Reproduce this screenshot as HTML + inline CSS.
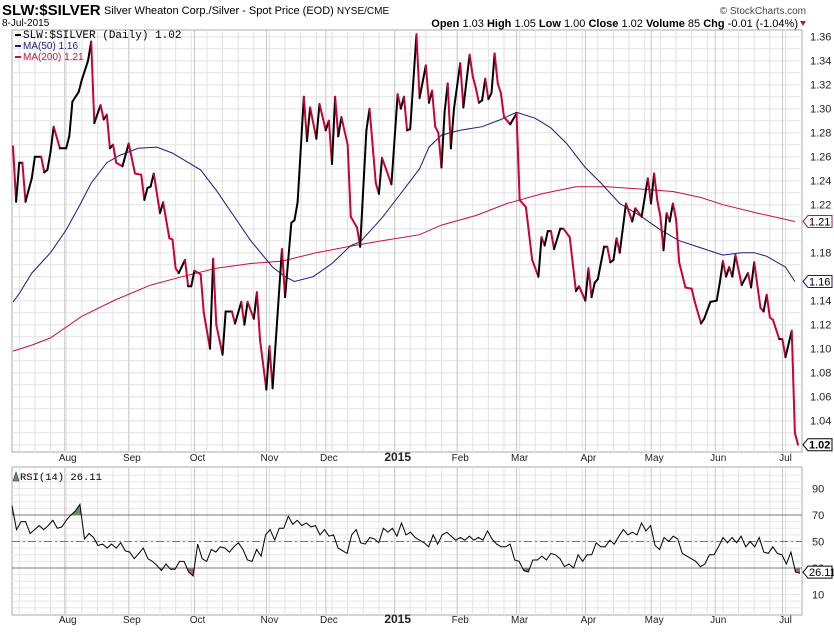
<!DOCTYPE html>
<html><head><meta charset="utf-8"><style>
body{margin:0;background:#fff;width:834px;height:635px;overflow:hidden;font-family:"Liberation Sans",sans-serif}
svg{display:block}
</style></head><body>
<svg id="chart" width="834" height="635" xmlns="http://www.w3.org/2000/svg" font-family="Liberation Sans, sans-serif">
<g id="hdr">
<text x="2" y="15" font-size="15" font-weight="bold">SLW:$SILVER</text>
<text x="104" y="14" font-size="11">Silver Wheaton Corp./Silver - Spot Price (EOD) <tspan font-size="10">NYSE/CME</tspan></text>
<text x="2" y="26" font-size="10">8-Jul-2015</text>
<text x="806" y="14" font-size="10" fill="#444" text-anchor="end">© StockCharts.com</text>
<text x="798" y="27" font-size="11" text-anchor="end"><tspan font-weight="bold">Open</tspan> 1.03  <tspan font-weight="bold">High</tspan> 1.05  <tspan font-weight="bold">Low</tspan> 1.00  <tspan font-weight="bold">Close</tspan> 1.02  <tspan font-weight="bold">Volume</tspan> 85  <tspan font-weight="bold">Chg</tspan> -0.01 (-1.04%)</text>
<path d="M800 21 L806 21 L803 26 Z" fill="#a02040"/>
</g>
<g id="grid"></g>
<g id="main"></g>
<g id="rsi"></g>
<g id="labels"></g>
</svg>
<script>
// ---- data ----
const priceDays=[0,1,2,3,4,6,7,9,10,11,12,13,15,17,18,19,21,22,24,25,26,28,29,30,31,32,33,35,37,39,41,42,43,44,45,47,48,50,51,52,53,55,56,57,58,60,61,63,64,65,67,68,70,71,73,74,75,77,78,79,81,82,83,86,87,89,90,91,93,94,95,97,98,100,101,102,103,104,105,107,108,110,111,113,114,116,117,118,121,123,124,125,126,127,129,130,132,133,134,135,136,137,138,139,140,141,143,144,146,147,148,149,150,151,152,153,154,155,156,157,159,161,162,164,166,168,169,170,171,172,173,175,176,178,180,181,183,184,185,186,187,189,190,191,192,193,194,196,198,199,201,203,204,205,206,207,208,209,210,211,212,213,215,217,218,220,221,223,225,226,227,228,229,230,231,233,235,236,237,239,240,241,242,243,245,246,247,249,250,251];
const priceVals=[1.2686,1.2225,1.255,1.255,1.2225,1.242,1.26,1.26,1.247,1.249,1.264,1.285,1.267,1.267,1.277,1.306,1.314,1.324,1.34,1.356,1.288,1.303,1.291,1.295,1.267,1.27,1.255,1.252,1.271,1.246,1.245,1.224,1.234,1.235,1.246,1.213,1.222,1.192,1.191,1.167,1.163,1.174,1.152,1.152,1.165,1.162,1.13,1.1,1.175,1.12,1.095,1.131,1.131,1.121,1.139,1.12,1.139,1.125,1.147,1.107,1.066,1.102,1.067,1.183,1.143,1.205,1.207,1.222,1.31,1.273,1.301,1.275,1.304,1.282,1.29,1.254,1.31,1.277,1.293,1.27,1.21,1.201,1.185,1.282,1.3,1.238,1.229,1.259,1.237,1.312,1.3,1.31,1.282,1.283,1.362,1.309,1.336,1.305,1.315,1.285,1.28,1.251,1.297,1.321,1.267,1.30,1.338,1.301,1.345,1.327,1.317,1.305,1.307,1.325,1.308,1.313,1.346,1.321,1.313,1.293,1.287,1.296,1.224,1.218,1.174,1.16,1.193,1.186,1.198,1.198,1.183,1.2,1.2,1.193,1.148,1.152,1.14,1.167,1.143,1.155,1.158,1.185,1.185,1.172,1.174,1.192,1.18,1.221,1.206,1.217,1.21,1.242,1.221,1.246,1.224,1.21,1.182,1.213,1.206,1.221,1.208,1.172,1.151,1.15,1.139,1.121,1.125,1.139,1.14,1.155,1.173,1.16,1.168,1.16,1.178,1.153,1.163,1.151,1.172,1.134,1.131,1.145,1.126,1.124,1.108,1.108,1.093,1.115,1.03,1.02];
const ma50Days=[0,2,6,12,17,21,25,30,34,40,46,51,60,65,70,76,83,87,90,96,102,108,111,118,123,130,133,137,143,150,156,161,167,172,177,183,188,194,201,207,213,220,227,233,237,241,247,250];
const ma50Vals=[1.139,1.146,1.163,1.18,1.199,1.218,1.238,1.255,1.261,1.267,1.268,1.263,1.249,1.232,1.213,1.19,1.168,1.16,1.156,1.16,1.171,1.186,1.189,1.209,1.226,1.25,1.268,1.278,1.282,1.285,1.291,1.297,1.292,1.284,1.271,1.251,1.238,1.221,1.21,1.199,1.19,1.184,1.178,1.18,1.18,1.177,1.168,1.156];
const ma200Days=[0,6,12,22,33,44,54,65,76,86,97,107,118,130,137,148,158,169,180,190,201,211,220,227,238,250];
const ma200Vals=[1.098,1.103,1.109,1.127,1.141,1.153,1.16,1.167,1.171,1.173,1.18,1.185,1.19,1.195,1.203,1.211,1.221,1.229,1.235,1.235,1.233,1.231,1.226,1.22,1.213,1.206];
const rsiVals=[77,59,65,65,56,59,62,59,62,66,60,61,66,70,73,78,52,56,53,47,48,45,48,45,49,43,42,37,41,45,37,35,32,28,33,29,29,35,35,27,24,48,37,35,44,42,46,45,42,46,49,44,36,35,44,39,55,59,51,60,60,69,63,66,62,64,61,62,55,59,54,55,45,43,41,55,59,49,48,53,52,49,60,57,60,54,64,55,57,53,51,49,46,55,48,55,57,54,51,53,51,54,51,53,51,58,52,48,46,46,48,36,35,28,27,36,36,39,36,41,40,37,31,33,30,40,35,40,40,49,46,46,51,48,54,59,55,57,55,64,58,62,47,44,53,50,54,52,41,39,37,35,31,33,40,40,46,53,49,53,49,54,46,50,46,53,42,41,46,41,40,33,42,27,26];
const priceTicks=[1.04,1.06,1.08,1.10,1.12,1.14,1.16,1.18,1.20,1.22,1.24,1.26,1.28,1.30,1.32,1.34,1.36];
const rsiTicks=[10,30,50,70,90];
const monthLabels=["Aug","Sep","Oct","Nov","Dec","2015","Feb","Mar","Apr","May","Jun","Jul"];
const monthDays=[17.5,38,59,82,101,123,143,162,184,205,225.5,247];

// ---- scales ----
const X0=13,X1=798,NDAYS=251;
const xs=d=>X0+d*(X1-X0)/NDAYS;
const py=v=>36.7+(1.36-v)*1200;
const ry=v=>515+(70-v)*1.325;
const NS="http://www.w3.org/2000/svg";
function mk(tag,attrs,parent){const e=document.createElementNS(NS,tag);for(const k in attrs)e.setAttribute(k,attrs[k]);parent.appendChild(e);return e;}
const grid=document.getElementById('grid'),main=document.getElementById('main'),rsi=document.getElementById('rsi'),lab=document.getElementById('labels');

// panels
let p=mk('rect',{x:12,y:30,width:790,height:422,fill:'#fff',stroke:'#aaa'},grid);


p=mk('rect',{x:12,y:467,width:790,height:148,fill:'#fff',stroke:'#aaa'},grid);


// horizontal grid
for(let v=1.02;v<=1.365;v+=0.01){const y=py(v);if(y<31||y>451)continue;const l=mk('line',{x1:12,x2:802,y1:y,y2:y,stroke:'#e2e2e2'},grid);}
for(let v=0;v<=100;v+=5){const y=ry(v);if(y<468||y>614)continue;const l=mk('line',{x1:12,x2:802,y1:y,y2:y,stroke:'#e6e6e6'},grid);}
// vertical weekly grid
for(let d=2;d<NDAYS;d+=5){const x=xs(d);
 let l=mk('line',{x1:x,x2:x,y1:30,y2:452,stroke:'#e2e2e2'},grid);
 l=mk('line',{x1:x,x2:x,y1:467,y2:615,stroke:'#e2e2e2'},grid);}
monthDays.forEach((d,i)=>{const x=xs(d)-3;
 let l=mk('line',{x1:x,x2:x,y1:30,y2:452,stroke:'#c8c8c8'},grid);
 l=mk('line',{x1:x,x2:x,y1:467,y2:615,stroke:'#c8c8c8'},grid);
 [461,623].forEach(yy=>{const t=mk('text',{x:xs(d),y:yy,'font-size':monthLabels[i]==='2015'?12:10,'font-weight':monthLabels[i]==='2015'?'bold':'normal','text-anchor':'middle',fill:'#222'},lab);t.textContent=monthLabels[i];});
});
// MA lines
function poly(days,vals,yf,attrs,name){const pts=days.map((d,i)=>xs(d).toFixed(1)+','+yf(vals[i]).toFixed(1)).join(' ');const e=mk('polyline',Object.assign({points:pts,fill:'none'},attrs),main);return e;}
poly(ma200Days,ma200Vals,py,{stroke:'#c8103a','stroke-width':1},'ma200-line');
poly(ma50Days,ma50Vals,py,{stroke:'#1a1a80','stroke-width':1},'ma50-line');
// price line colored by direction
for(let i=1;i<priceDays.length;i++){const up=priceVals[i]>=priceVals[i-1];
 const s=mk('line',{x1:xs(priceDays[i-1]),y1:py(priceVals[i-1]),x2:xs(priceDays[i]),y2:py(priceVals[i]),stroke:up?'#000':'#cc0033','stroke-width':2,'stroke-linecap':'round'},main);
 
 }
// legend
[['#000','SLW:$SILVER (Daily) 1.02','legend-price',11,'Liberation Mono, monospace'],['#1a1a80','MA(50) 1.16','legend-ma50',10,'Liberation Sans, sans-serif'],['#c8103a','MA(200) 1.21','legend-ma200',10,'Liberation Sans, sans-serif']].forEach((e,i)=>{const y=38+i*11;
 const g=mk('g',{},lab);
 mk('line',{x1:15,x2:21,y1:y-3,y2:y-3,stroke:e[0],'stroke-width':2},g);
 const t=mk('text',{x:23,y:y,'font-size':e[3],fill:e[0],'font-family':e[4]},g);t.textContent=e[1];});
// price axis labels
priceTicks.forEach(v=>{if(Math.abs(v-1.16)<0.001||Math.abs(v-1.20)<0.001)return;const t=mk('text',{x:810,y:py(v)+4,'font-size':11,fill:'#222'},lab);t.textContent=v.toFixed(2);});
function tag(y,txt,col,bold,name){const g=mk('g',{},lab);
 mk('path',{d:`M803 ${y} L808 ${y-6} L832 ${y-6} L832 ${y+6} L808 ${y+6} Z`,fill:'#fff',stroke:col},g);
 const t=mk('text',{x:809,y:y+4,'font-size':11,fill:'#000','font-weight':bold?'bold':'normal'},g);t.textContent=txt;}
tag(py(1.206),'1.21','#c8103a',false,'ma200-value-tag');
tag(py(1.156),'1.16','#1a1a80',false,'ma50-value-tag');
tag(py(1.02),'1.02','#000',true,'price-value-tag');
// RSI
[70,30].forEach(v=>{const l=mk('line',{x1:12,x2:802,y1:ry(v),y2:ry(v),stroke:'#777'},rsi);});
let l50=mk('line',{x1:12,x2:802,y1:ry(50),y2:ry(50),stroke:'#777','stroke-dasharray':'8,3,2,3'},rsi);


const rx=i=>12+i*(800-12)/(rsiVals.length-1);
const rpts=rsiVals.map((v,i)=>rx(i).toFixed(1)+','+ry(v).toFixed(1));
const defs=mk('defs',{},rsi);
const c1=mk('clipPath',{id:'above'},defs);mk('rect',{x:12,y:467,width:790,height:ry(70)-467},c1);
const c2=mk('clipPath',{id:'below'},defs);mk('rect',{x:12,y:ry(30),width:790,height:615-ry(30)},c2);
let f=mk('polygon',{points:rx(0)+','+ry(70)+' '+rpts.join(' ')+' '+rx(rsiVals.length-1)+','+ry(70),fill:'#6b8f6b','clip-path':'url(#above)'},rsi);

f=mk('polygon',{points:rx(0)+','+ry(30)+' '+rpts.join(' ')+' '+rx(rsiVals.length-1)+','+ry(30),fill:'#9a6b7a','clip-path':'url(#below)'},rsi);

const rl=mk('polyline',{points:rpts.join(' '),fill:'none',stroke:'#000','stroke-width':1},rsi);


rsiTicks.forEach(v=>{const t=mk('text',{x:812,y:ry(v)+4,'font-size':11,fill:'#222'},lab);t.textContent=v;});
tag(ry(26.11)-1,'26.11','#000',false,'rsi-value-tag');
const rg=mk('g',{},lab);
mk('path',{d:'M13 481 L16 472 L19 481 Z',fill:'#6b8f6b',stroke:'#333','stroke-width':0.6},rg);
const rt=mk('text',{x:20,y:480,'font-size':10.5,'font-family':'Liberation Mono, monospace'},rg);rt.textContent='RSI(14) 26.11';
</script>
</body></html>
